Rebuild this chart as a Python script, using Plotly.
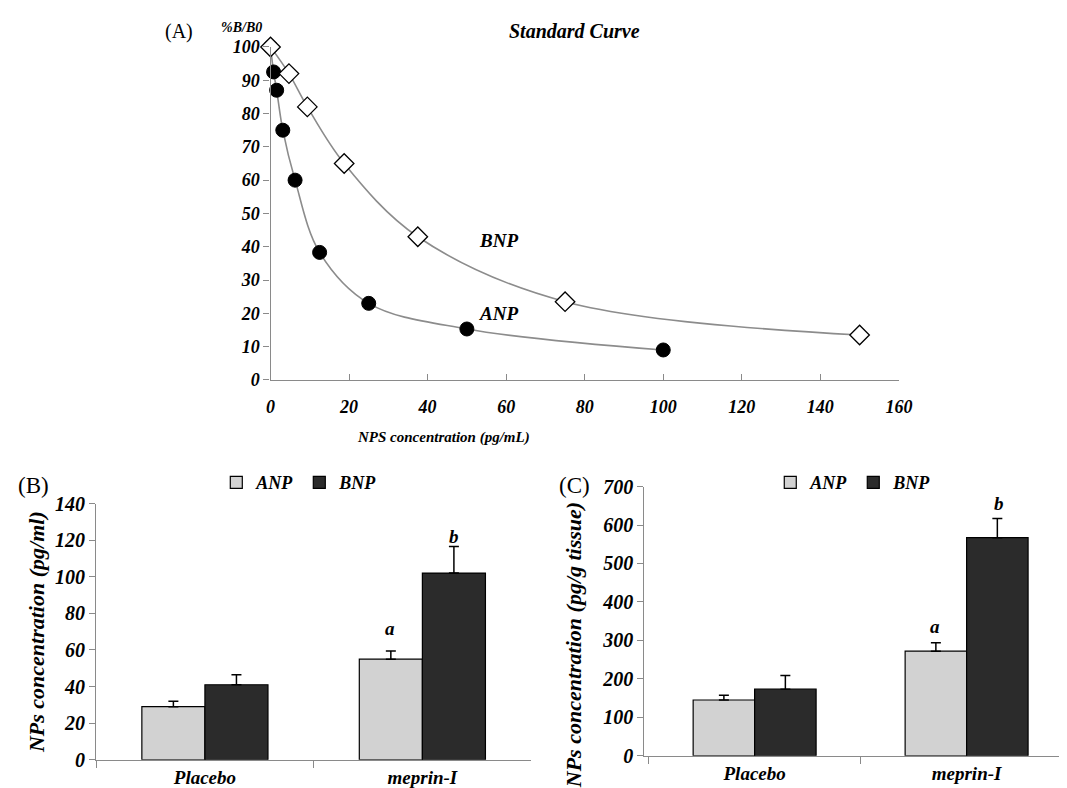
import plotly.graph_objects as go

# Panel A: standard curve
anp_conc = [0, 0.78, 1.56, 3.125, 6.25, 12.5, 25, 50, 100]
anp_bb0 = [100, 92.5, 87, 75, 60, 38.3, 23, 15.3, 9]
bnp_conc = [0, 4.69, 9.375, 18.75, 37.5, 75, 150]
bnp_bb0 = [100, 92, 82, 65, 43, 23.5, 13.5]
a_xticks = [0, 20, 40, 60, 80, 100, 120, 140, 160]
a_yticks = [0, 10, 20, 30, 40, 50, 60, 70, 80, 90, 100]

# Panel B: plasma
groups = ["Placebo", "meprin-I"]
b_anp = [29, 55]
b_anp_err = [3, 4.5]
b_bnp = [41, 102]
b_bnp_err = [5.5, 14.5]
b_yticks = [0, 20, 40, 60, 80, 100, 120, 140]

# Panel C: tissue
c_anp = [145, 272]
c_anp_err = [12, 22]
c_bnp = [173, 567]
c_bnp_err = [36, 50]
c_yticks = [0, 100, 200, 300, 400, 500, 600, 700]

SERIF = "Liberation Serif"
ANP_FILL = "#d2d2d2"
BNP_FILL = "#2b2b2b"
AXC = "#8a8a8a"

fig = go.Figure()

fig.add_trace(go.Scatter(
    x=anp_conc, y=anp_bb0, mode="lines+markers", line=dict(shape="spline", color="#8c8c8c", width=1.6),
    marker=dict(symbol="circle", size=14, color="black", line=dict(color="black", width=1)),
    showlegend=False, cliponaxis=False, xaxis="x", yaxis="y"))
fig.add_trace(go.Scatter(
    x=bnp_conc, y=bnp_bb0, mode="lines+markers", line=dict(shape="spline", color="#8c8c8c", width=1.6),
    marker=dict(symbol="diamond", size=15, color="white", line=dict(color="black", width=1.3)),
    showlegend=False, cliponaxis=False, xaxis="x", yaxis="y"))

def err(vals):
    return dict(type="data", array=vals, symmetric=False, arrayminus=[0] * len(vals),
                color="black", thickness=1.5, width=5)

fig.add_trace(go.Bar(x=groups, y=b_anp, name="ANP", marker=dict(color=ANP_FILL, line=dict(color="black", width=1.2)),
                     error_y=err(b_anp_err), xaxis="x2", yaxis="y2", legend="legend"))
fig.add_trace(go.Bar(x=groups, y=b_bnp, name="BNP", marker=dict(color=BNP_FILL, line=dict(color="black", width=1.2)),
                     error_y=err(b_bnp_err), xaxis="x2", yaxis="y2", legend="legend"))
fig.add_trace(go.Bar(x=groups, y=c_anp, name="ANP", marker=dict(color=ANP_FILL, line=dict(color="black", width=1.2)),
                     error_y=err(c_anp_err), xaxis="x3", yaxis="y3", legend="legend2"))
fig.add_trace(go.Bar(x=groups, y=c_bnp, name="BNP", marker=dict(color=BNP_FILL, line=dict(color="black", width=1.2)),
                     error_y=err(c_bnp_err), xaxis="x3", yaxis="y3", legend="legend2"))

def bi(size):
    return dict(family=SERIF, size=size, color="black", weight="bold", style="italic")

base = dict(showgrid=False, zeroline=False, showline=True, linecolor=AXC, linewidth=1.3, tickcolor=AXC)

fig.update_layout(
    width=1067, height=788, margin=dict(l=0, r=0, t=0, b=0),
    paper_bgcolor="white", plot_bgcolor="white",
    barmode="group", bargap=0.42, bargroupgap=0,
    xaxis=dict(domain=[0.2455, 0.8445], range=[0, 160], tickvals=a_xticks, tickfont=bi(18),
               anchor="y", ticks="inside", ticklen=6, ticklabelstandoff=10, **base),
    yaxis=dict(domain=[0.5288, 0.9635], range=[0, 100], tickvals=a_yticks, tickfont=bi(18),
               anchor="x", ticks="outside", ticklen=6, **base),
    xaxis2=dict(domain=[0.0793, 0.4939], tickfont=bi(19), anchor="y2", tickson="boundaries",
                ticks="outside", ticklen=7, **base),
    yaxis2=dict(domain=[0.0329, 0.3674], range=[0, 140], tickvals=b_yticks, tickfont=bi(20), anchor="x2",
                ticks="outside", ticklen=6, **base,
                title=dict(text="NPs concentration (pg/ml)", standoff=4, font=bi(22))),
    xaxis3=dict(domain=[0.6019, 1.0], range=[-0.52, 1.45], tickfont=bi(19), anchor="y3",
                tickson="boundaries", ticks="outside", ticklen=7, **base),
    yaxis3=dict(domain=[0.0382, 0.3896], range=[0, 700], tickvals=c_yticks, tickfont=bi(20), anchor="x3",
                ticks="outside", ticklen=6, **base),
    legend=dict(orientation="h", x=0.2734, y=0.3947, xanchor="center", yanchor="middle",
                font=bi(18), itemwidth=30, bgcolor="rgba(0,0,0,0)"),
    legend2=dict(orientation="h", x=0.8015, y=0.3947, xanchor="center", yanchor="middle",
                 font=bi(18), itemwidth=30, bgcolor="rgba(0,0,0,0)"),
)

def pa(text, x, y, font, yanchor="middle", angle=0):
    return dict(text=text, x=x, y=y, xref="paper", yref="paper", showarrow=False,
                xanchor="center", yanchor=yanchor, textangle=angle, font=font, borderpad=0)

annotations = [
    pa("(A)", 0.1586, 1.0, dict(family=SERIF, size=20, color="black"), yanchor="top"),
    pa("%B/B0", 0.2175, 1.0, bi(14), yanchor="top"),
    pa("Standard Curve", 0.535, 1.0, bi(20), yanchor="top"),
    pa("NPS concentration (pg/mL)", 0.4108, 0.4533, bi(15)),
    pa("(B)", 0.0191, 0.3909, dict(family=SERIF, size=23, color="black")),
    pa("(C)", 0.535, 0.3909, dict(family=SERIF, size=23, color="black")),
    pa("NPs concentration (pg/g tissue)", 0.534, 0.1827, bi(22), angle=-90),
    dict(text="BNP", x=58, y=42, xref="x", yref="y", showarrow=False, font=bi(19)),
    dict(text="ANP", x=58, y=20, xref="x", yref="y", showarrow=False, font=bi(19)),
    dict(text="a", x="meprin-I", y=72, xref="x2", yref="y2", xshift=-32, showarrow=False, font=bi(19)),
    dict(text="b", x="meprin-I", y=122, xref="x2", yref="y2", xshift=32, showarrow=False, font=bi(19)),
    dict(text="a", x="meprin-I", y=335, xref="x3", yref="y3", xshift=-32, showarrow=False, font=bi(19)),
    dict(text="b", x="meprin-I", y=655, xref="x3", yref="y3", xshift=32, showarrow=False, font=bi(19)),
]
fig.update_layout(annotations=annotations)

fig.write_html("out.html")
